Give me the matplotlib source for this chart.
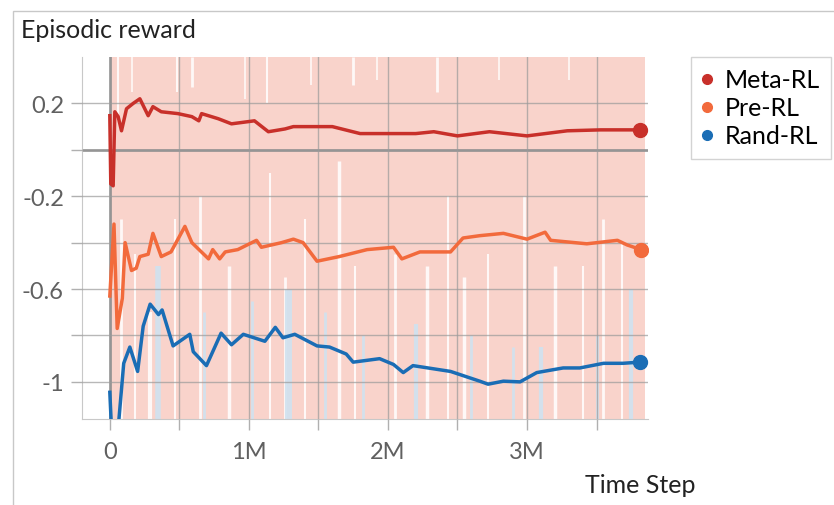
import matplotlib.pyplot as plt
from matplotlib.lines import Line2D
from matplotlib.patches import Rectangle
from matplotlib.ticker import FixedLocator, FuncFormatter

# smoothed episodic reward, x in millions of time steps
meta_x = [0, 0.007, 0.024, 0.036, 0.06, 0.084, 0.12, 0.168, 0.216, 0.276, 0.31, 0.37, 0.49,
          0.59, 0.64, 0.66, 0.78, 0.875, 1.04, 1.14, 1.26, 1.32, 1.6, 1.8, 2.2, 2.33, 2.5,
          2.73, 3.0, 3.29, 3.53, 3.81]
meta_y = [0.147, -0.147, -0.155, 0.164, 0.143, 0.082, 0.177, 0.2, 0.22, 0.147, 0.186, 0.164,
          0.156, 0.143, 0.125, 0.156, 0.134, 0.112, 0.125, 0.078, 0.09, 0.1, 0.1, 0.07, 0.07,
          0.078, 0.06, 0.078, 0.06, 0.082, 0.086, 0.086]

pre_x = [0, 0.03, 0.053, 0.09, 0.11, 0.156, 0.19, 0.216, 0.276, 0.31, 0.37, 0.44, 0.54, 0.59,
         0.71, 0.74, 0.79, 0.83, 0.92, 1.055, 1.09, 1.235, 1.32, 1.39, 1.49, 1.65, 1.85, 2.04,
         2.10, 2.23, 2.45, 2.54, 2.66, 2.83, 3.0, 3.13, 3.17, 3.43, 3.65, 3.72, 3.82]
pre_y = [-0.63, -0.32, -0.77, -0.64, -0.40, -0.52, -0.51, -0.46, -0.45, -0.36, -0.46, -0.44,
         -0.33, -0.40, -0.47, -0.43, -0.47, -0.44, -0.43, -0.39, -0.42, -0.40, -0.385, -0.40,
         -0.48, -0.46, -0.43, -0.42, -0.47, -0.44, -0.44, -0.38, -0.37, -0.36, -0.385, -0.355,
         -0.39, -0.405, -0.39, -0.41, -0.43]

rand_x = [0, 0.012, 0.06, 0.10, 0.144, 0.2, 0.24, 0.29, 0.35, 0.376, 0.455, 0.575, 0.6, 0.695,
          0.80, 0.875, 0.96, 1.115, 1.19, 1.245, 1.33, 1.49, 1.58, 1.70, 1.75, 1.94, 2.04, 2.11,
          2.18, 2.45, 2.66, 2.72, 2.83, 2.95, 3.07, 3.26, 3.38, 3.55, 3.69, 3.81]
rand_y = [-1.045, -1.2, -1.2, -0.92, -0.85, -0.955, -0.76, -0.665, -0.71, -0.69, -0.845, -0.795,
          -0.87, -0.93, -0.79, -0.84, -0.795, -0.825, -0.765, -0.81, -0.795, -0.845, -0.85,
          -0.88, -0.915, -0.90, -0.925, -0.96, -0.93, -0.955, -0.997, -1.01, -0.997, -1.0, -0.96,
          -0.94, -0.94, -0.92, -0.92, -0.915]

# raw-data streaks behind the smoothed curves: (x, y bottom, y top, width)
white_streaks = [(0.06, 0.15, 0.4, 1.5), (0.16, 0.25, 0.4, 1.2), (0.48, 0.25, 0.4, 1.5),
                 (0.59, 0.27, 0.4, 2), (0.97, 0.22, 0.4, 1.2), (1.13, 0.2, 0.4, 1.5),
                 (1.45, 0.28, 0.4, 1.2), (1.75, 0.28, 0.4, 2), (1.92, 0.3, 0.4, 1.2),
                 (2.35, 0.25, 0.4, 2), (2.8, 0.3, 0.4, 1.2), (3.3, 0.3, 0.4, 1.2),
                 (0.08, -1.16, -0.3, 2), (0.18, -1.16, -0.45, 1.5), (0.29, -1.16, -0.7, 3),
                 (0.47, -1.16, -0.3, 1.5), (0.65, -1.16, -0.2, 2), (0.86, -1.16, -0.5, 2.5),
                 (1.15, -1.16, -0.1, 1.5), (1.26, -1.16, -0.55, 2), (1.4, -1.16, -0.3, 1.5),
                 (1.65, -1.16, -0.05, 2.5), (1.76, -1.16, -0.5, 1.5), (2.05, -1.16, -0.45, 2),
                 (2.28, -1.16, -0.5, 2.5), (2.43, -1.16, -0.2, 1.5), (2.55, -1.16, -0.55, 2.5),
                 (2.72, -1.16, -0.45, 1.5), (2.98, -1.16, -0.2, 2), (3.2, -1.16, -0.5, 2.5),
                 (3.4, -1.16, -0.5, 1.5), (3.55, -1.16, -0.3, 2), (3.68, -1.16, -0.4, 1.5)]
blue_streaks = [(0.35, -1.16, -0.5, 4), (0.68, -1.16, -0.7, 2), (1.02, -1.16, -0.65, 2),
                (1.28, -1.16, -0.6, 5), (1.55, -1.16, -0.7, 2), (1.82, -1.16, -0.8, 2),
                (2.2, -1.16, -0.75, 3), (2.6, -1.16, -0.8, 2), (2.9, -1.16, -0.85, 2),
                (3.1, -1.16, -0.85, 3), (3.5, -1.16, -0.8, 2), (3.75, -1.16, -0.6, 3)]

red = '#c8302a'
orange = '#f26a3c'
blue = '#1a6db5'

fig = plt.figure(figsize=(8.34, 5.06), dpi=100)
fig.patches.append(Rectangle((13 / 834, -0.1), 1.0, 1 - 12 / 506 + 0.1, transform=fig.transFigure,
                             fill=False, edgecolor='#c8c8c8', linewidth=1))
ax = fig.add_axes([82 / 834, 86 / 506, 566 / 834, 362 / 506])

ax.axvspan(0, 3.85, color='#f9d3cb', zorder=0, linewidth=0)
for x, y0, y1, w in white_streaks:
    ax.vlines(x, y0, y1, color='white', linewidth=w, alpha=0.85, zorder=0.5)
for x, y0, y1, w in blue_streaks:
    ax.vlines(x, y0, y1, color='#cfe2f0', linewidth=w, alpha=0.9, zorder=0.6)

ax.axhline(0, color='#8a8a8a', linewidth=1.8, zorder=1)
ax.axvline(0, color='#8a8a8a', linewidth=1.8, zorder=1)

ax.plot(meta_x, meta_y, color=red, linewidth=2.5, zorder=3)
ax.plot(pre_x, pre_y, color=orange, linewidth=2.5, zorder=3)
ax.plot(rand_x, rand_y, color=blue, linewidth=2.5, zorder=3)
for xs, ys, c in [(meta_x, meta_y, red), (pre_x, pre_y, orange), (rand_x, rand_y, blue)]:
    ax.plot(xs[-1], ys[-1], 'o', color=c, markersize=10, zorder=4)

ax.set_xlim(-0.2, 3.87)
ax.set_ylim(-1.16, 0.40)

ax.xaxis.set_major_locator(FixedLocator([0, 0.5, 1, 1.5, 2, 2.5, 3, 3.5]))
ax.xaxis.set_major_formatter(FuncFormatter(
    lambda v, p: '0' if v == 0 else (f'{int(v)}M' if v == int(v) else '')))
ax.yaxis.set_major_locator(FixedLocator([0.2, 0, -0.2, -0.4, -0.6, -0.8, -1.0]))
ax.yaxis.set_major_formatter(FuncFormatter(
    lambda v, p: {0.2: '0.2', -0.2: '-0.2', -0.6: '-0.6', -1.0: '-1'}.get(round(v, 1), '')))
ax.grid(True, color='#9a9a9a', linewidth=1, alpha=0.7, zorder=1)
ax.set_axisbelow(False)
ax.tick_params(axis='both', length=8, width=1, color='#b0b0b0', labelsize=17,
               labelcolor='#606060', pad=5)
ax.tick_params(axis='x', pad=8)
for lbl in ax.get_xticklabels() + ax.get_yticklabels():
    lbl.set_family('Lato')
for sp in ax.spines.values():
    sp.set_visible(False)
ax.spines['bottom'].set_visible(True)
ax.spines['bottom'].set_color('#c8c8c8')
ax.spines['left'].set_visible(True)
ax.spines['left'].set_color('#c8c8c8')

fig.text(21 / 834, 1 - 31 / 506, 'Episodic reward', fontsize=18, family='Lato',
         color='#222222', va='center', ha='left')
fig.text(640 / 834, 1 - 486 / 506, 'Time Step', fontsize=18, family='Lato',
         color='#222222', va='center', ha='center')

handles = [Line2D([], [], marker='o', linestyle='none', color=c, markersize=7)
           for c in (red, orange, blue)]
leg = fig.legend(handles, ['Meta-RL', 'Pre-RL', 'Rand-RL'], loc='upper left',
                 bbox_to_anchor=(691 / 834, 1 - 58 / 506), frameon=True, fancybox=False,
                 handlelength=0.4, handletextpad=0.5, borderpad=0.45, labelspacing=0.2,
                 borderaxespad=0, prop={'family': 'Lato', 'size': 18})
leg.get_frame().set_edgecolor('#c8c8c8')
leg.get_frame().set_linewidth(1)

fig.savefig('out.png', dpi=100)
